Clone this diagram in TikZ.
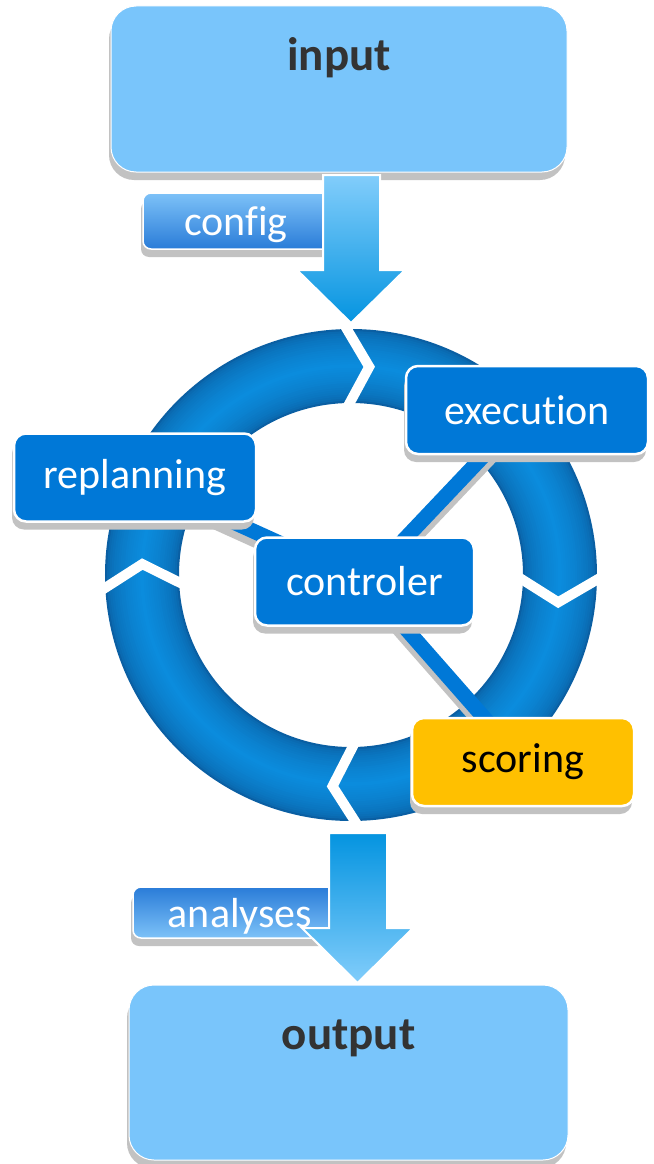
\documentclass[tikz,border=0pt]{standalone}
\usepackage{fontspec}
\setmainfont{Carlito}[Ligatures={NoCommon,NoContextual}, Contextuals=NoAlternate]
\usetikzlibrary{calc,shadows}

\definecolor{boxblue}{HTML}{0078D7}
\definecolor{paleblue}{HTML}{79C5FB}
\definecolor{gold}{HTML}{FFC000}
\definecolor{ringdark}{HTML}{0A5FA3}
\definecolor{ringlight}{HTML}{0B8CDD}
\definecolor{shadowgray}{HTML}{C2C2C2}
\definecolor{titlegray}{HTML}{333333}
\definecolor{tabdark}{HTML}{2A7CD8}
\definecolor{tablight}{HTML}{7DC2F8}
\definecolor{arrowlight}{HTML}{82CDFB}
\definecolor{arrowdark}{HTML}{0494E0}

\pgfdeclarelayer{ringlayer}
\pgfdeclarelayer{linklayer}
\pgfsetlayers{ringlayer,linklayer,main}

\tikzset{
  boxshadow/.style={drop shadow={shadow xshift=-2pt, shadow yshift=-8pt, fill=shadowgray, opacity=1}},
  stage/.style={rounded corners=12pt, fill=boxblue, draw=white, line width=2.5pt,
    text=white, font=\fontsize{42}{50}\selectfont, minimum width=242pt,
    minimum height=88pt, inner sep=0pt, boxshadow},
  panel/.style={rounded corners=25pt, fill=paleblue, draw=white, line width=1pt,
    inner sep=0pt, boxshadow},
  title/.style={text=titlegray, font=\fontsize{47}{56}\selectfont\bfseries, anchor=base, inner sep=0pt},
  tab/.style={rounded corners=8pt, draw=white, line width=1.5pt, inner sep=0pt, boxshadow},
  tabtext/.style={text=white, font=\fontsize{42}{50}\selectfont, anchor=base, inner sep=0pt},
  link/.style={line width=15pt, draw=boxblue},
  linkshadow/.style={line width=15pt, draw=shadowgray},
  bigarrow/.style={draw=white, line width=2pt, line join=miter},
  notch/.style={draw=white, line width=10pt, line join=miter},
}

\begin{document}
\begin{tikzpicture}[x=1pt,y=-1pt]
\useasboundingbox (0,0) rectangle (653,1164);

% cycle ring with a tube-like shading
\coordinate (ringc) at (351,575);
\begin{pgfonlayer}{ringlayer}
  \foreach \i in {0,...,16}{
    \pgfmathsetmacro\w{74-\i*4.4}
    \pgfmathtruncatemacro\p{100*sqrt(\i/16)}
    \draw[line width=\w pt, ringlight!\p!ringdark] (ringc) circle[radius=209];
  }
  % chevron cuts between the four segments
  \begin{scope}[shift={(ringc)}]
    \draw[notch] (-92:254) -- (-85:209) -- (-92:164);
    \draw[notch] (0:254) -- (7.5:209) -- (0:164);
    \draw[notch] (88:254) -- (95:212) -- (88:164);
    \draw[notch] (176:254) -- (183:209) -- (176:164);
  \end{scope}
\end{pgfonlayer}

% input panel and its flow into the cycle
\node[panel, minimum width=456pt, minimum height=166pt] (input) at (339,89) {};
\node[title] (inputtext) at ([yshift=-65pt]input.north) {input};

\node[tab, top color=tablight, bottom color=tabdark, minimum width=197pt, minimum height=56pt] (config) at (241.5,221) {};
\node[tabtext] (configtext) at (236,235) {config};

\coordinate (inflow) at (351.5,175);
\coordinate (intip) at (351,323);
\shadedraw[bigarrow, top color=arrowlight, bottom color=arrowdark]
  ($(inflow)+(-28.5,0)$) -- ($(inflow)+(28.5,0)$) -- ($(intip)+(29,-53)$)
  -- ($(intip)+(54,-53)$) -- (intip) -- ($(intip)+(-54,-53)$)
  -- ($(intip)+(-28,-53)$) -- cycle;

% stages of the cycle
\node[stage] (execution) at (527,410) {execution};
\node[stage] (replanning) at (135,477.5) {replanning};
\node[stage, minimum width=219pt] (controler) at (364.5,581.5) {controler};
\node[stage, fill=gold, text=black, minimum width=222pt] (scoring) at (523,762) {scoring};

% links from the controller to the stages
\begin{pgfonlayer}{linklayer}
  \foreach \t in {execution,replanning,scoring}
    \draw[linkshadow] ([yshift=-8pt]controler.center) -- ([yshift=-8pt]\t.center);
  \foreach \t in {execution,replanning,scoring}
    \draw[link] (controler.center) -- (\t.center);
\end{pgfonlayer}

% flow out of the cycle into the output panel
\node[tab, top color=tabdark, bottom color=tablight, minimum width=212pt, minimum height=51pt] (analyses) at (239,912.5) {};
\node[tabtext] (analysestext) at (240,927) {analyses};

\coordinate (outflow) at (358,833);
\coordinate (outtip) at (357.5,983);
\shadedraw[bigarrow, top color=arrowdark, bottom color=arrowlight]
  ($(outflow)+(-29,0)$) -- ($(outflow)+(29,0)$) -- ($(outtip)+(29.5,-55)$)
  -- ($(outtip)+(55.5,-55)$) -- (outtip) -- ($(outtip)+(-55.5,-55)$)
  -- ($(outtip)+(-28.5,-55)$) -- cycle;

\node[panel, minimum width=439pt, minimum height=175pt] (output) at (348.5,1072.5) {};
\node[title] (outputtext) at ([yshift=-65pt]output.north) {output};
\end{tikzpicture}
\end{document}
